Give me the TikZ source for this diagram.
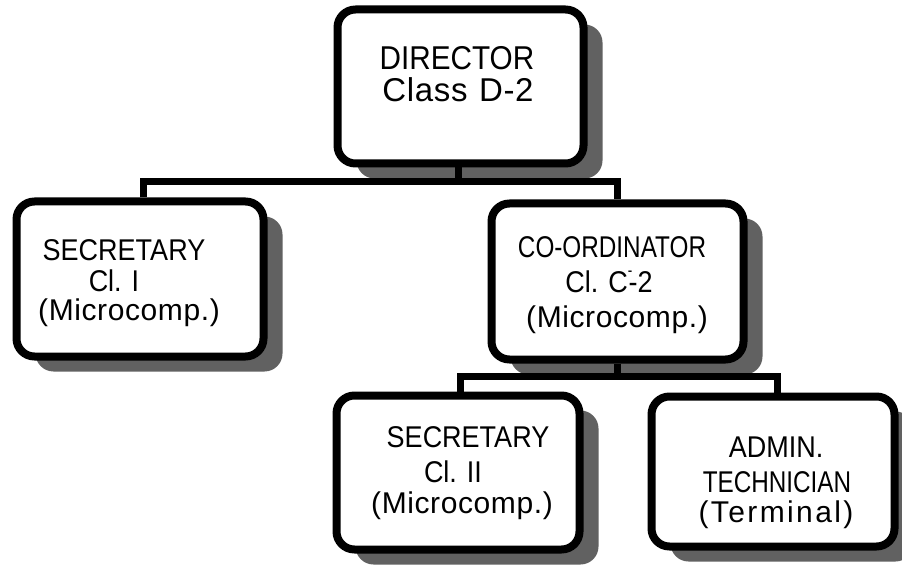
\documentclass[tikz,border=0pt]{standalone}
\usepackage{fontspec}
\usepackage{graphicx}
\setmainfont{Liberation Sans}
\newfontfamily\capfont[FakeStretch=0.9]{Liberation Sans}
\newfontfamily\lowfont[LetterSpace=2]{Liberation Sans}
\newfontfamily\widefont[LetterSpace=8]{Liberation Sans}
\newcommand\narrowed[1]{\scalebox{0.9}[1]{#1}}
\usetikzlibrary{shadows}

\begin{document}
\begin{tikzpicture}[x=1pt,y=-1pt,
  post/.style={draw, line width=8pt, rounded corners=18pt, fill=white, inner sep=0pt,
    drop shadow={shadow xshift=19pt, shadow yshift=-15pt, fill=black!62, opacity=1}},
  bus/.style={line width=7pt},
  big/.style={font=\fontsize{33}{33}\selectfont, anchor=base, inner sep=0pt},
  txt/.style={font=\fontsize{30}{30}\selectfont, anchor=base, inner sep=0pt},
]
\useasboundingbox (0,0) rectangle (902,569);

% posts
\node[post, minimum width=246pt, minimum height=154pt] (dir)   at (460.5,86.5) {};
\node[post, minimum width=247pt, minimum height=155pt] (sec1)  at (140,279)    {};
\node[post, minimum width=252pt, minimum height=156pt] (coord) at (617.5,281.5) {};
\node[post, minimum width=243pt, minimum height=154pt] (sec2)  at (458,472.5)  {};
\node[post, minimum width=243pt, minimum height=150pt] (admin) at (773,471.5)  {};

% reporting lines
\coordinate (t1) at (458,182);
\draw[bus] (dir.south -| t1) -- (t1);
\draw[bus] (sec1.north -| 143,0) |- (t1) -| (coord.north);

\coordinate (t2) at (617.5,376);
\draw[bus] (coord.south) -- (t2);
\draw[bus] (sec2.north -| 460,0) |- (t2) -| (admin.north -| 777,0);

% labels
\node[big] (dir-a) at (457,70)  {\capfont DIRECTOR};
\node[big] (dir-b) at (458,102) {\lowfont Class\hspace{0.35em}D-2};

\node[txt] (s1-a) at (124,261) {\capfont SECRETARY};
\node[txt] (s1-b) at (114,291) {\capfont Cl. I};
\node[txt] (s1-c) at (129,320) {\lowfont (Microcomp.)};

\node[txt] (co-a) at (612,258) {\narrowed{\capfont CO-ORDINATOR}};
\node[txt] (co-b) at (609,293) {\capfont Cl. C\raisebox{0.55em}{\scalebox{0.5}[0.6]{-}}\kern-0.12em-2};
\node[txt] (co-c) at (617,327) {\lowfont (Microcomp.)};

\node[txt] (s2-a) at (468,447) {\capfont SECRETARY};
\node[txt] (s2-b) at (453,482) {\capfont Cl. II};
\node[txt] (s2-c) at (462,513) {\lowfont (Microcomp.)};

\node[txt] (ad-a) at (776,457) {\capfont ADMIN.};
\node[txt] (ad-b) at (777,492) {\narrowed{\capfont TECHNICIAN}};
\node[txt] (ad-c) at (776,522) {\widefont (Terminal)};
\end{tikzpicture}
\end{document}
